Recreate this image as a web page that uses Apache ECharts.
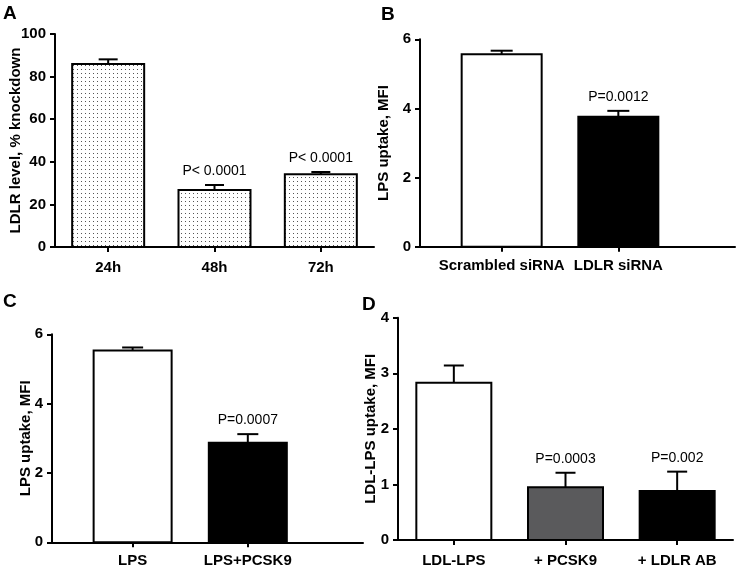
<!DOCTYPE html>
<html>
<head>
<meta charset="utf-8">
<script src="https://cdn.jsdelivr.net/npm/echarts@6.0.0/dist/echarts.min.js"></script>
<style>
  html, body { margin: 0; padding: 0; background: #fff; }
  #chart { width: 739px; height: 570px; }
</style>
</head>
<body>
<div id="chart"></div>
<script>
// panel A - LDLR knockdown
const catsA = ['24h', '48h', '72h'];
const meanA = [85.9, 26.8, 34.1];
const semA = [2.2, 2.3, 1.1];
const pA = ['', 'P< 0.0001', 'P< 0.0001'];

// panel B - siRNA
const catsB = ['Scrambled siRNA', 'LDLR siRNA'];
const meanB = [5.57, 3.76];
const semB = [0.10, 0.17];
const pB = ['', 'P=0.0012'];

// panel C - PCSK9
const catsC = ['LPS', 'LPS+PCSK9'];
const meanC = [5.53, 2.87];
const semC = [0.09, 0.25];
const pC = ['', 'P=0.0007'];

// panel D - LDL-LPS
const catsD = ['LDL-LPS', '+ PCSK9', '+ LDLR AB'];
const meanD = [2.83, 0.95, 0.88];
const semD = [0.31, 0.26, 0.35];
const pD = ['', 'P=0.0003', 'P=0.002'];

const FONT = 'Liberation Sans, Arial, sans-serif';

// dotted fill for panel A
const dotCanvas = document.createElement('canvas');
dotCanvas.width = 4;
dotCanvas.height = 4;
const dctx = dotCanvas.getContext('2d');
dctx.fillStyle = '#fff';
dctx.fillRect(0, 0, 4, 4);
dctx.fillStyle = '#555';
dctx.fillRect(1, 1, 1, 1);
const dots = { image: dotCanvas, repeat: 'repeat' };

const toData = (mean, sem, start) => mean.map((m, i) => [i + start, m, m + sem[i]]);

const barRender = (barW, capW, fills, labels) => (params, api) => {
  const i = params.dataIndex;
  const x = api.value(0);
  const base = api.coord([x, 0]);
  const top = api.coord([x, api.value(1)]);
  const cap = api.coord([x, api.value(2)]);
  const kids = [
    { type: 'rect', shape: { x: base[0] - barW / 2, y: top[1], width: barW, height: base[1] - top[1] },
      style: { fill: fills[i], stroke: '#000', lineWidth: 2 } },
    { type: 'line', shape: { x1: top[0], y1: top[1], x2: cap[0], y2: cap[1] },
      style: { stroke: '#000', lineWidth: 2 } },
    { type: 'line', shape: { x1: cap[0] - capW / 2, y1: cap[1], x2: cap[0] + capW / 2, y2: cap[1] },
      style: { stroke: '#000', lineWidth: 2 } }
  ];
  if (labels[i]) {
    kids.push({ type: 'text', x: cap[0], y: cap[1] - 14,
      style: { text: labels[i], font: '14px ' + FONT, fill: '#000', align: 'center', verticalAlign: 'middle' } });
  }
  return { type: 'group', children: kids };
};

const axisLine = { show: true, lineStyle: { color: '#000', width: 2 } };
const axisTick = { show: true, length: 5, lineStyle: { color: '#000', width: 2 } };
const labelStyle = { color: '#000', fontFamily: FONT, fontWeight: 'bold', fontSize: 15 };

function yAx(idx, name, max, interval, gap) {
  return {
    type: 'value', gridIndex: idx, min: 0, max: max, interval: interval,
    name: name, nameLocation: 'middle', nameRotate: 90, nameGap: gap, nameMoveOverlap: false,
    nameTextStyle: { color: '#000', fontFamily: FONT, fontWeight: 'bold', fontSize: 15 },
    axisLine: axisLine, axisTick: axisTick, splitLine: { show: false },
    axisLabel: Object.assign({ margin: 9 }, labelStyle)
  };
}

function xCat(idx, cats, margin) {
  return {
    type: 'category', gridIndex: idx, data: cats,
    axisLine: axisLine, axisTick: Object.assign({ alignWithLabel: true }, axisTick),
    axisLabel: Object.assign({ margin: margin, interval: 0 }, labelStyle)
  };
}

function xVal(idx, cats, margin) {
  const pos = cats.map((c, i) => i + 1);
  return {
    type: 'value', gridIndex: idx, min: 0.3, max: 3.0,
    splitLine: { show: false },
    axisLine: axisLine,
    axisTick: Object.assign({ customValues: pos }, axisTick),
    axisLabel: Object.assign({ margin: margin, customValues: pos,
      formatter: v => cats[Math.round(v) - 1] || '' }, labelStyle)
  };
}

const chart = echarts.init(document.getElementById('chart'));
chart.setOption({
  backgroundColor: '#fff',
  animation: false,
  grid: [
    { left: 55, top: 34, width: 319, height: 213 },
    { left: 420, top: 39.3, width: 315, height: 207.4 },
    { left: 52, top: 334.3, width: 311, height: 208 },
    { left: 398, top: 317.7, width: 335, height: 222.3 }
  ],
  xAxis: [
    xCat(0, catsA, 13),
    xVal(1, catsB, 12),
    xVal(2, catsC, 11),
    xCat(3, catsD, 13)
  ],
  yAxis: [
    yAx(0, 'LDLR level, % knockdown', 100, 20, 32),
    yAx(1, 'LPS uptake, MFI', 6, 2, 29),
    yAx(2, 'LPS uptake, MFI', 6, 2, 19),
    yAx(3, 'LDL-LPS uptake, MFI', 4, 1, 20)
  ],
  graphic: [
    { type: 'text', left: 3, top: 4, style: { text: 'A', font: 'bold 19px ' + FONT, fill: '#000' } },
    { type: 'text', left: 381, top: 5, style: { text: 'B', font: 'bold 19px ' + FONT, fill: '#000' } },
    { type: 'text', left: 3, top: 292, style: { text: 'C', font: 'bold 19px ' + FONT, fill: '#000' } },
    { type: 'text', left: 362, top: 295, style: { text: 'D', font: 'bold 19px ' + FONT, fill: '#000' } }
  ],
  series: [
    { type: 'custom', xAxisIndex: 0, yAxisIndex: 0, data: toData(meanA, semA, 0),
      renderItem: barRender(72, 19, [dots, dots, dots], pA) },
    { type: 'custom', xAxisIndex: 1, yAxisIndex: 1, data: toData(meanB, semB, 1),
      renderItem: barRender(80, 22, ['#fff', '#000'], pB) },
    { type: 'custom', xAxisIndex: 2, yAxisIndex: 2, data: toData(meanC, semC, 1),
      renderItem: barRender(78, 21, ['#fff', '#000'], pC) },
    { type: 'custom', xAxisIndex: 3, yAxisIndex: 3, data: toData(meanD, semD, 0),
      renderItem: barRender(75, 20, ['#fff', '#5a5a5c', '#000'], pD) }
  ]
});
</script>
</body>
</html>
